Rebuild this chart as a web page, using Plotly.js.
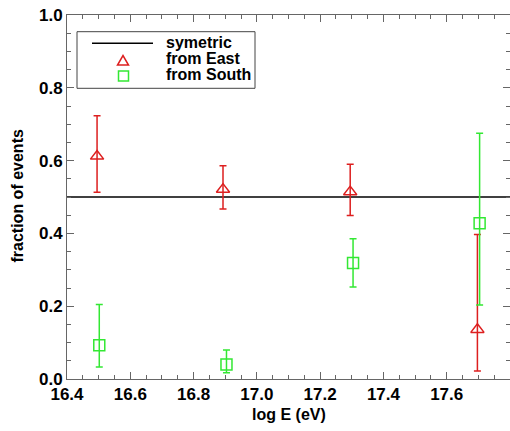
<!DOCTYPE html>
<html>
<head>
<meta charset="utf-8">
<script src="https://cdn.plot.ly/plotly-3.0.1.min.js"></script>
<style>html,body{margin:0;padding:0;background:#fff;}#chart{width:510px;height:431px;}</style>
</head>
<body>
<div id="chart"></div>
<script>
// ---- data ----
const eastX  = [16.495, 16.893, 17.295, 17.697];
const eastY  = [0.612, 0.521, 0.514, 0.136];
const eastHi = [0.723, 0.586, 0.590, 0.397];
const eastLo = [0.513, 0.467, 0.449, 0.022];

const southX  = [16.502, 16.904, 17.304, 17.704];
const southY  = [0.093, 0.040, 0.319, 0.428];
const southHi = [0.205, 0.080, 0.385, 0.675];
const southLo = [0.033, 0.017, 0.253, 0.203];

const symX = [16.4, 17.8];
const symY = [0.5, 0.5];

const legendLabels = ['symetric', 'from East', 'from South'];
const xTitle = 'log E (eV)';
const yTitle = 'fraction of events';
const xTickVals = [16.4, 16.6, 16.8, 17.0, 17.2, 17.4, 17.6];
const yTickVals = [0.0, 0.2, 0.4, 0.6, 0.8, 1.0];

// ---- layout geometry ----
const W = 510, H = 431, L = 67, R = 0, T = 15, B = 52;
const PW = W - L - R, PH = H - T - B;
const px = p => (p - L) / PW;
const py = p => (H - B - p) / PH;

const RED = '#dd1f1f', GREEN = '#33e833', AX = '#666666';
const FONT = 'Liberation Sans, Arial, Helvetica, sans-serif';

const traces = [
  {x: symX, y: symY, mode: 'lines', line: {color: '#000', width: 1.5}, hoverinfo: 'skip', showlegend: false},
  {x: eastX, y: eastY, mode: 'markers', showlegend: false,
   marker: {symbol: 'triangle-up-open', size: 11.5, color: RED, line: {color: RED, width: 1.5}},
   error_y: {type: 'data', symmetric: false,
     array: eastHi.map((v, i) => v - eastY[i]), arrayminus: eastY.map((v, i) => v - eastLo[i]),
     color: RED, thickness: 1.5, width: 3.5}},
  {x: southX, y: southY, mode: 'markers', showlegend: false,
   marker: {symbol: 'square-open', size: 11, color: GREEN, line: {color: GREEN, width: 1.5}},
   error_y: {type: 'data', symmetric: false,
     array: southHi.map((v, i) => v - southY[i]), arrayminus: southY.map((v, i) => v - southLo[i]),
     color: GREEN, thickness: 1.5, width: 3.5}}
];

const axCommon = {
  showline: true, linecolor: AX, linewidth: 1, mirror: 'allticks',
  ticks: 'inside', ticklen: 7, tickwidth: 1, tickcolor: AX,
  showgrid: false, zeroline: false, fixedrange: true,
  tickfont: {family: FONT, size: 17, color: '#000', weight: 'bold'}
};

const txtFont = {family: FONT, size: 16, color: '#000', weight: 'bold'};
const textX = 164;
const rows = [43, 58, 74];

const annotations = legendLabels.map((t, i) => ({
  text: t, xref: 'paper', yref: 'paper', x: px(textX), y: py(rows[i]),
  xanchor: 'left', yanchor: 'middle', showarrow: false, font: txtFont
}));
annotations.push({text: xTitle, xref: 'paper', yref: 'paper', x: 0.5, y: py(414),
  xanchor: 'center', yanchor: 'middle', showarrow: false, font: txtFont});
annotations.push({text: yTitle, xref: 'paper', yref: 'paper', x: px(17), y: py(196.5), textangle: -90,
  xanchor: 'center', yanchor: 'middle', showarrow: false, font: txtFont});

const layout = {
  width: W, height: H,
  margin: {l: L, r: R, t: T, b: B, pad: 0},
  paper_bgcolor: '#fff', plot_bgcolor: '#fff',
  showlegend: false,
  xaxis: Object.assign({}, axCommon, {
    range: [16.4, 17.8], tickvals: xTickVals, tickformat: '.1f',
    minor: {dtick: 0.05, tick0: 16.4, ticks: 'inside', ticklen: 4, tickcolor: AX, tickwidth: 1}
  }),
  yaxis: Object.assign({}, axCommon, {
    range: [0, 1], tickvals: yTickVals, tickformat: '.1f',
    minor: {dtick: 0.05, tick0: 0, ticks: 'inside', ticklen: 4, tickcolor: AX, tickwidth: 1}
  }),
  shapes: [
    {type: 'rect', xref: 'paper', yref: 'paper', x0: px(77), x1: px(255), y0: py(88.3), y1: py(31.7),
     line: {color: '#444', width: 1}, fillcolor: 'rgba(255,255,255,1)', layer: 'above'},
    {type: 'line', xref: 'paper', yref: 'paper', x0: px(92), x1: px(153), y0: py(43.3), y1: py(43.3),
     line: {color: '#000', width: 1.5}},
    {type: 'path', xref: 'paper', yref: 'paper',
     path: `M ${px(117.5)} ${py(65)} L ${px(128.5)} ${py(65)} L ${px(123)} ${py(55.5)} Z`,
     line: {color: RED, width: 1.5}},
    {type: 'rect', xref: 'paper', yref: 'paper', x0: px(118.5), x1: px(128.5), y0: py(81), y1: py(71),
     line: {color: GREEN, width: 1.5}}
  ],
  annotations: annotations
};

Plotly.newPlot('chart', traces, layout, {staticPlot: true, displayModeBar: false});
</script>
</body>
</html>
